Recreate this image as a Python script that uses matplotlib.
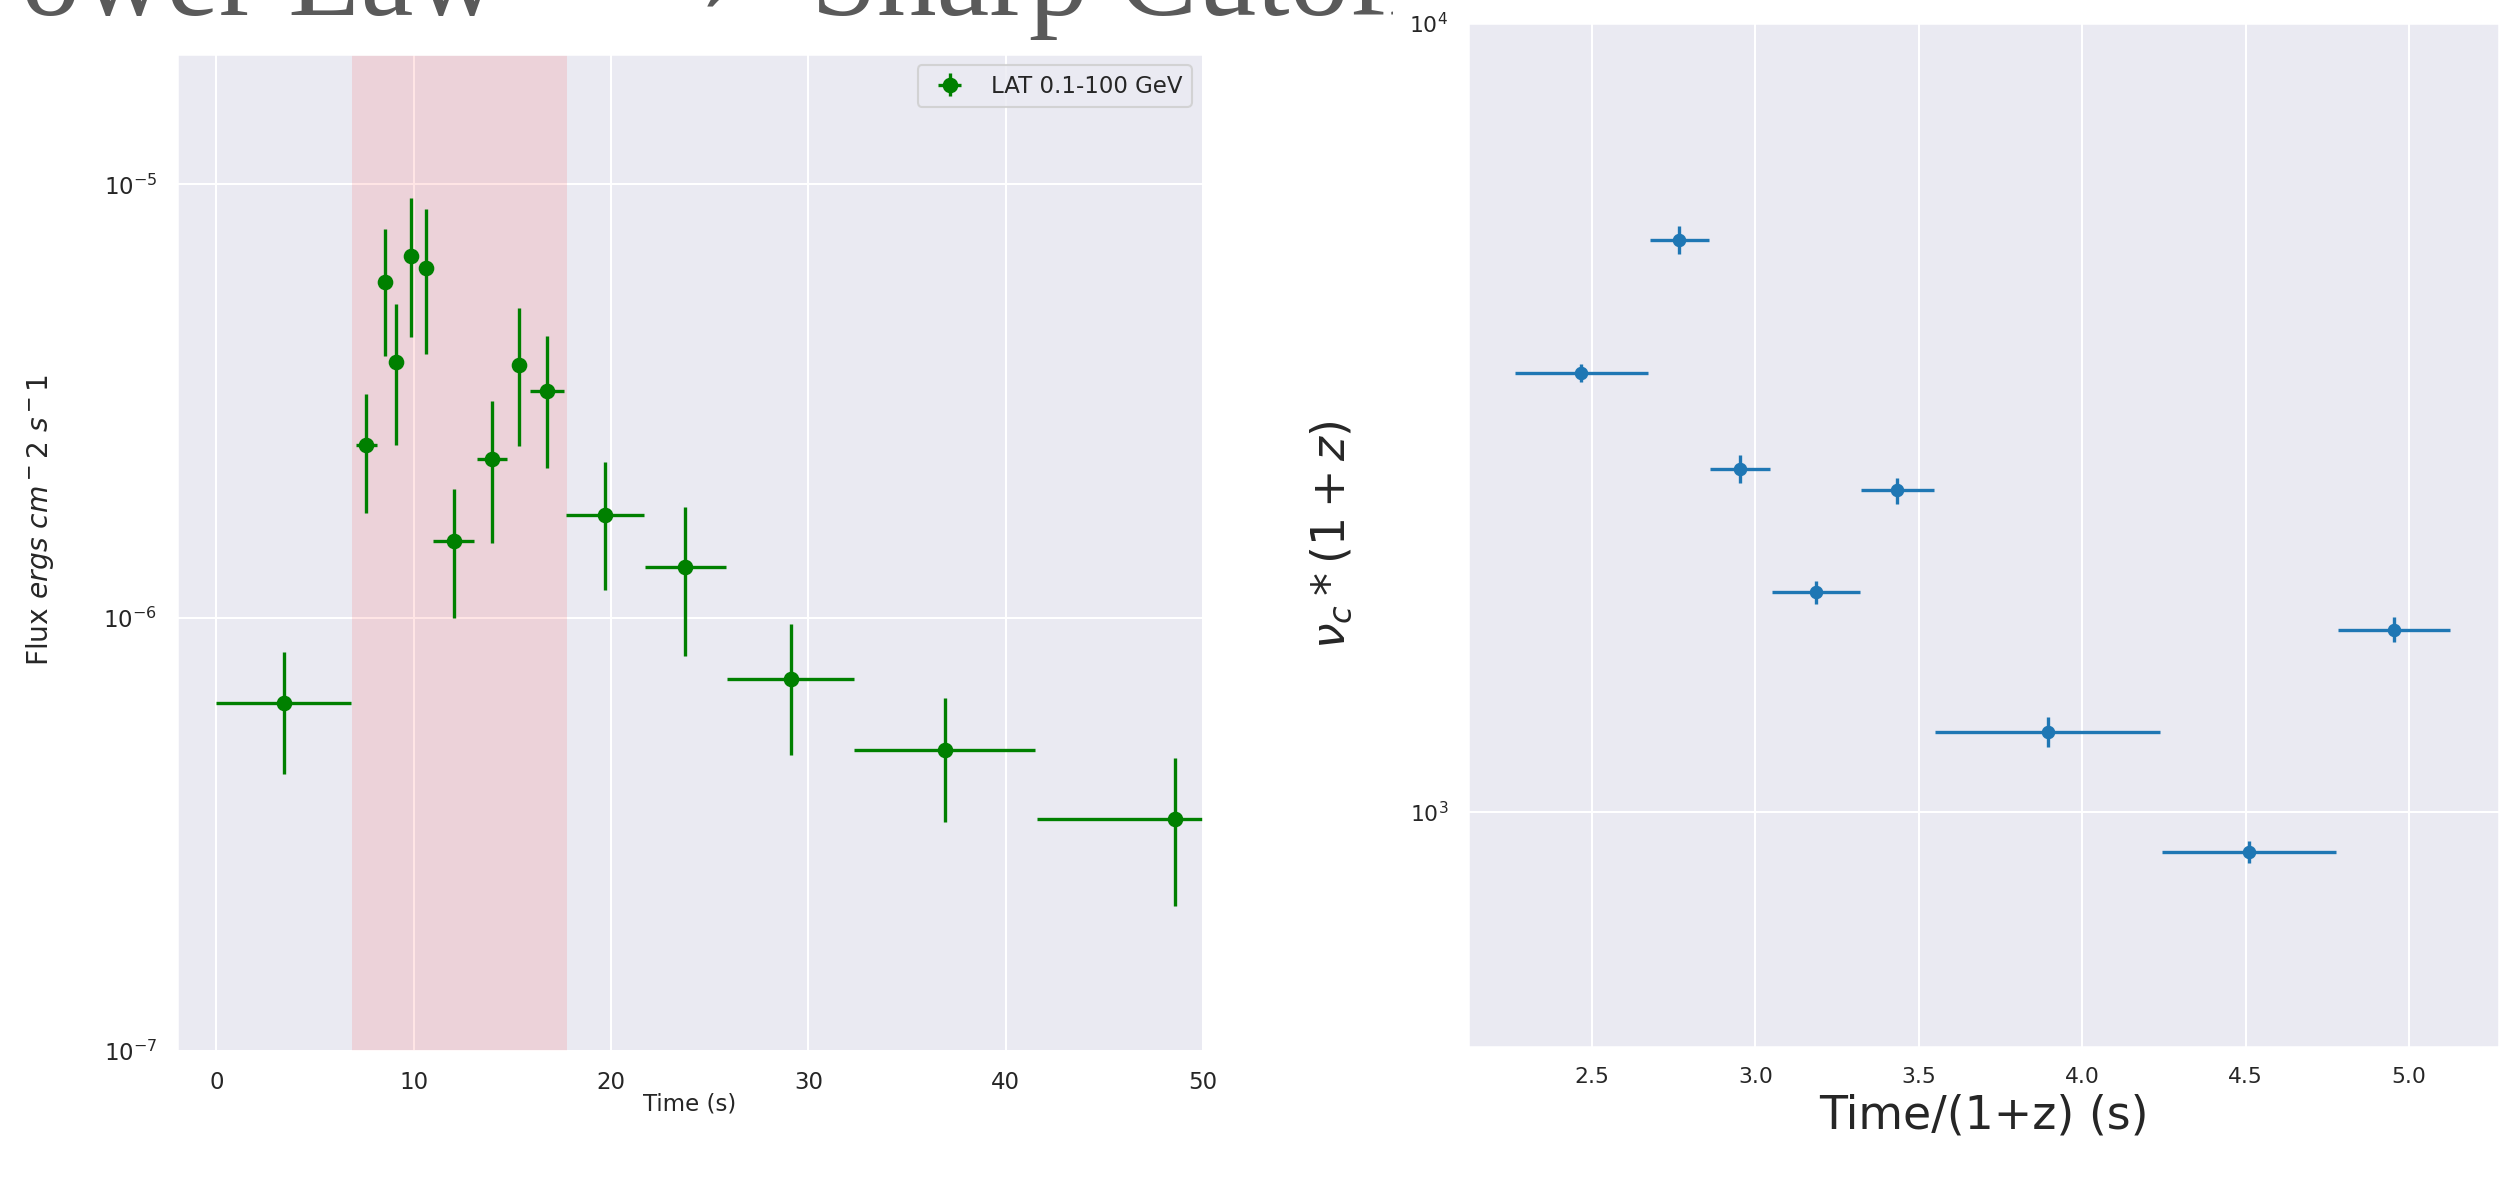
import matplotlib
matplotlib.use('Agg')
import matplotlib.pyplot as plt
from matplotlib.transforms import Bbox, TransformedBbox
import seaborn as sns
import numpy as np

sns.set_theme(style='darkgrid')

# LAT 0.1-100 GeV light curve
t_lat = [3.42, 7.6, 8.52, 9.09, 9.86, 10.64, 12.02, 13.98, 15.32, 16.75, 19.68, 23.76, 29.1, 36.9, 48.6]
t_lat_err = [3.42, 0.55, 0.3, 0.2, 0.3, 0.25, 1.04, 0.75, 0.2, 0.85, 1.98, 2.04, 3.2, 4.6, 7.0]
flux = [6.34e-7, 2.51e-6, 5.94e-6, 3.89e-6, 6.85e-6, 6.40e-6, 1.50e-6, 2.32e-6, 3.84e-6,
        3.34e-6, 1.73e-6, 1.31e-6, 7.23e-7, 4.94e-7, 3.44e-7]
flux_hi = [8.35e-7, 3.28e-6, 7.88e-6, 5.30e-6, 9.31e-6, 8.77e-6, 1.98e-6, 3.17e-6, 5.19e-6,
           4.47e-6, 2.29e-6, 1.80e-6, 9.69e-7, 6.52e-7, 4.74e-7]
flux_lo = [4.36e-7, 1.74e-6, 4.01e-6, 2.51e-6, 4.44e-6, 4.07e-6, 1.00e-6, 1.49e-6, 2.49e-6,
           2.21e-6, 1.16e-6, 8.18e-7, 4.83e-7, 3.37e-7, 2.16e-7]
shade = (6.85, 17.77)

# cutoff energy, rest frame
t_z = [2.468, 2.768, 2.952, 3.186, 3.434, 3.894, 4.511, 4.953]
t_z_err = [0.204, 0.09, 0.092, 0.135, 0.112, 0.343, 0.266, 0.172]
nu_c = [3597, 5311, 2722, 1897, 2554, 1262, 889, 1701]
nu_c_err = [95, 210, 114, 64, 97, 55, 28, 62]

W, H = 2520, 1185
fig = plt.figure(figsize=(W / 150, H / 150), dpi=150)

ax1 = fig.add_axes([177 / W, 1 - 1051 / H, 1026 / W, 997 / H])
ax2 = fig.add_axes([1468 / W, 1 - 1047 / H, 1031 / W, 1024 / H])

f = np.array(flux)
yerr = [f - np.array(flux_lo), np.array(flux_hi) - f]
ax1.axvspan(shade[0], shade[1], color='red', alpha=0.1, lw=0)
ax1.errorbar(t_lat, flux, xerr=t_lat_err, yerr=yerr, fmt='o', color='green',
             ms=6.5, elinewidth=1.6, label='LAT 0.1-100 GeV')
ax1.set_yscale('log')
ax1.set_xlim(-2, 50)
ax1.set_ylim(1e-7, 2e-5)
ax1.set_xlabel('Time (s)', fontsize=11)
ax1.set_ylabel(r'Flux $ergs\ cm^-2\ s^-1$', fontsize=13.5)
ax1.xaxis.set_label_coords(0.5, -0.042)
ax1.yaxis.set_label_coords(-0.118, 0.533)
ax1.tick_params(labelsize=11)
ax1.legend(loc='upper right', fontsize=11)

ax2.errorbar(t_z, nu_c, xerr=t_z_err, yerr=nu_c_err, fmt='o', color='#1f77b4',
             ms=5.5, elinewidth=1.6)
ax2.set_yscale('log')
ax2.set_xlim(2.121, 5.275)
ax2.set_ylim(503, 1e4)
ax2.set_xlabel('Time/(1+z) (s)', fontsize=22)
ax2.set_ylabel(r'$\nu_c * (1+z)$', fontsize=22)
ax2.xaxis.set_label_coords(0.5, -0.045)
ax2.yaxis.set_label_coords(-0.11, 0.5)
ax2.tick_params(labelsize=10.5)

# title sits mostly above the canvas and is cut where the right panel begins
clip = TransformedBbox(Bbox([[0, 0], [1393 / W, 1]]), fig.transFigure)
tkw = dict(fontfamily='Liberation Serif', color='#5a5a5a', va='baseline')
fig.text(-45 / W, 1 - 15 / H, 'Power Law', fontsize=57, ha='left', **tkw)
fig.text(608 / W, 1 - 13 / H, '\u2192', fontsize=75, ha='left', **tkw)
t = fig.text(811 / W, 1 - 15 / H, 'Sharp Cutoff', fontsize=57, ha='left', **tkw)
t.set_clip_box(clip)
t.set_clip_on(True)

fig.savefig('out.png', dpi=150)
